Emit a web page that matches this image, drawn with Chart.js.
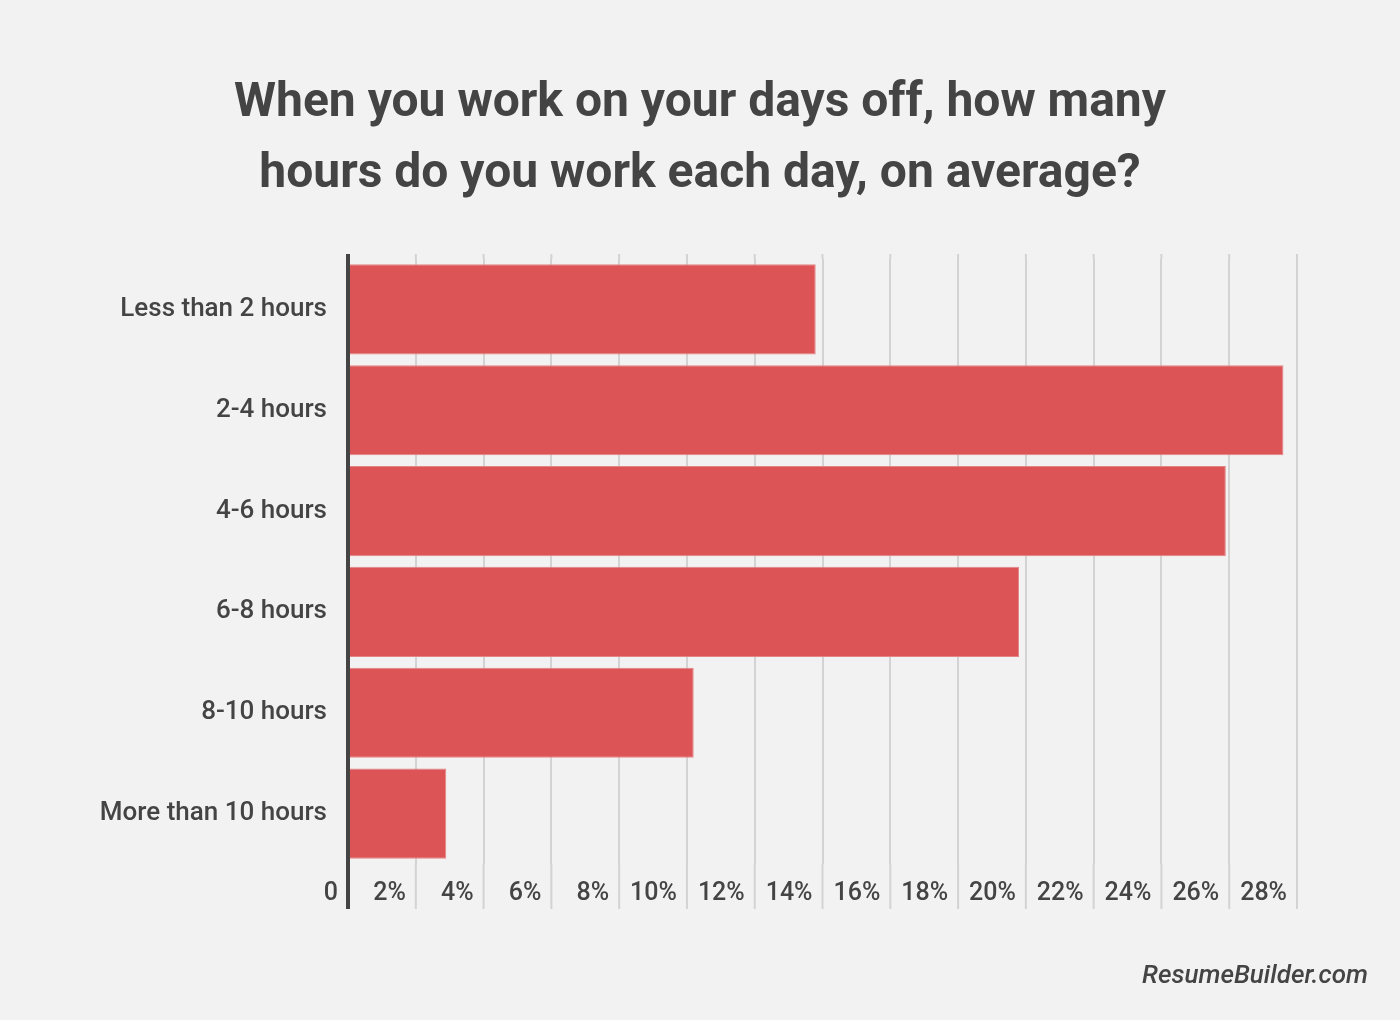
<!DOCTYPE html>
<html>
<head>
<meta charset="utf-8">
<script src="https://cdn.jsdelivr.net/npm/chart.js@4.4.1/dist/chart.umd.min.js"></script>
<style>
    html, body { margin: 0; padding: 0; background: #f2f2f2; }
    .wrap { position: relative; width: 1400px; height: 1020px; }
    #chart { display: block; }
    .source {
        position: absolute;
        right: 32px;
        top: 959px;
        font-family: Roboto, sans-serif;
        font-style: italic;
        font-weight: 500;
        font-size: 26px;
        color: #444;
    }
</style>
</head>
<body>
<div class="wrap">
    <canvas id="chart" width="1400" height="1020"></canvas>
    <div class="source">ResumeBuilder.com</div>
</div>
<script>
// Data
const categories = ['Less than 2 hours', '2-4 hours', '4-6 hours', '6-8 hours', '8-10 hours', 'More than 10 hours'];
const shares = [13.8, 27.6, 25.9, 19.8, 10.2, 2.9];
const tickValues = [0, 2, 4, 6, 8, 10, 12, 14, 16, 18, 20, 22, 24, 26, 28];

const TEXT = '#444444';
const GRID = '#d3d3d3';

// Gridlines run a bit past the plot area (5px up, 45px down through the labels)
const gridExtend = {
    id: 'gridExtend',
    afterDatasetsDraw(chart) {
        const { ctx, chartArea, scales } = chart;
        const x = scales.x;
        ctx.save();
        x.ticks.forEach(t => {
            const px = x.getPixelForValue(t.value);
            ctx.beginPath();
            if (t.value === 0) {
                ctx.strokeStyle = TEXT;
                ctx.lineWidth = 4;
                ctx.moveTo(px, chartArea.top - 5);
                ctx.lineTo(px, chartArea.bottom + 45);
            } else {
                ctx.strokeStyle = GRID;
                ctx.lineWidth = 2;
                ctx.moveTo(px, chartArea.top - 5);
                ctx.lineTo(px, chartArea.top);
                ctx.moveTo(px, chartArea.bottom);
                ctx.lineTo(px, chartArea.bottom + 45);
            }
            ctx.stroke();
        });
        ctx.restore();
    }
};

const ctx = document.getElementById('chart').getContext('2d');

new Chart(ctx, {
    type: 'bar',
    data: {
        labels: categories,
        datasets: [{
            data: shares,
            backgroundColor: '#dc5456',
            borderColor: '#e48485',
            borderWidth: 1,
            borderSkipped: 'start',
            categoryPercentage: 1,
            barPercentage: 0.895
        }]
    },
    options: {
        indexAxis: 'y',
        responsive: false,
        animation: false,
        layout: {
            padding: { left: 0, right: 0, top: 0, bottom: 96 }
        },
        plugins: {
            legend: { display: false },
            tooltip: { enabled: false },
            title: {
                display: true,
                text: ['When you work on your days off, how many', 'hours do you work each day, on average?'],
                color: TEXT,
                font: { family: 'Roboto', size: 48, weight: 'bold', lineHeight: '71px' },
                padding: { top: 68, bottom: 49 }
            }
        },
        scales: {
            x: {
                min: 0,
                max: 28,
                afterBuildTicks: scale => {
                    scale.ticks = tickValues.map(v => ({ value: v }));
                },
                grid: {
                    color: c => (c.tick && c.tick.value === 0) ? 'rgba(0,0,0,0)' : GRID,
                    lineWidth: 2,
                    drawTicks: false
                },
                border: { display: false },
                ticks: {
                    color: TEXT,
                    font: { family: 'Roboto', size: 25, weight: '500' },
                    align: 'end',
                    labelOffset: -10,
                    padding: 15,
                    maxRotation: 0,
                    autoSkip: false,
                    callback: v => v === 0 ? '0' : v + '%'
                }
            },
            y: {
                afterFit: scale => { scale.width = 348; },
                grid: { display: false, drawTicks: false },
                border: { display: false },
                ticks: {
                    color: TEXT,
                    font: { family: 'Roboto', size: 26, weight: '500' },
                    padding: 21
                }
            },
            // empty right-hand axis, only keeps the plot off the right edge
            yRight: {
                type: 'category',
                position: 'right',
                afterFit: scale => { scale.width = 103; },
                grid: { display: false, drawTicks: false },
                border: { display: false },
                ticks: { display: false }
            }
        }
    },
    plugins: [gridExtend]
});
</script>
</body>
</html>
